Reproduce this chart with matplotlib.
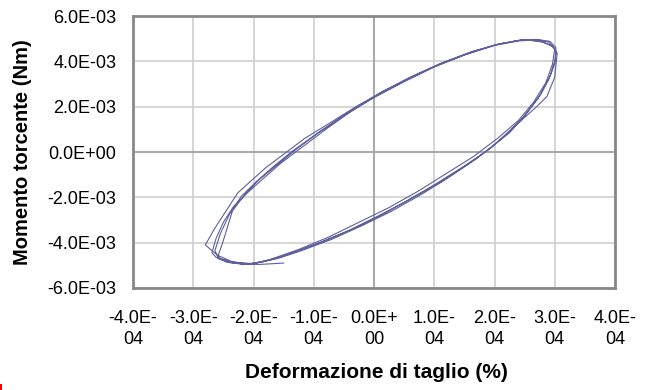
import matplotlib
matplotlib.use("Agg")
import matplotlib.pyplot as plt
from matplotlib.patches import Rectangle

plt.rcParams['font.family'] = ['Liberation Sans', 'DejaVu Sans']

# Torsion test loops: shear strain in units of 1e-4 (%), torque in units of 1e-3 Nm
strain_1 = [-1.5, -1.9, -2.2, -2.45, -2.62, -2.69, -2.62, -2.5, -2.33, -2.1, -1.85, -1.55, -1.2, -0.8,
            -0.35, 0.1, 0.6, 1.1, 1.6, 2.05, 2.45, 2.75, 2.95, 3.02, 3.0, 2.9, 2.72, 2.45, 2.1, 1.7,
            1.25, 0.8, 0.3, -0.2, -0.7, -1.2, -1.6]
torque_1 = [-4.9, -4.96, -4.95, -4.85, -4.65, -4.45, -3.8, -3.1, -2.4, -1.8, -1.2, -0.5, 0.2, 1.0,
            1.85, 2.6, 3.3, 3.9, 4.4, 4.75, 4.95, 4.9, 4.7, 4.45, 3.9, 3.2, 2.35, 1.45, 0.55, -0.3,
            -1.1, -1.85, -2.6, -3.25, -3.85, -4.35, -4.7]

strain_2 = [-2.0, -2.35, -2.6, -2.8, -2.65, -2.5, -2.26, -2.05, -1.8, -1.5, -1.15, -0.75, -0.3, 0.15,
            0.65, 1.15, 1.65, 2.1, 2.5, 2.8, 2.97, 3.04, 3.0, 2.87, 2.7, 2.3, 1.95, 1.55, 1.1, 0.65,
            0.15, -0.35, -0.85, -1.35, -1.75]
torque_2 = [-4.93, -4.85, -4.55, -4.1, -3.4, -2.78, -1.8, -1.3, -0.7, -0.1, 0.6, 1.25, 2.0, 2.68,
            3.35, 3.95, 4.45, 4.78, 4.96, 4.85, 4.65, 4.35, 3.3, 2.45, 2.0, 1.05, 0.2, -0.55, -1.35, -2.0,
            -2.75, -3.4, -3.95, -4.45, -4.78]

strain_3 = [-2.1, -2.4, -2.58, -2.64, -2.55, -2.4, -2.2, -1.95, -1.65, -1.35, -0.95, -0.5, 0.0, 0.5,
            1.0, 1.5, 2.0, 2.4, 2.7, 2.9, 3.0, 2.96, 2.85, 2.65, 2.4, 2.05, 1.65, 1.2, 0.75, 0.25,
            -0.25, -0.75, -1.25, -1.7]
torque_3 = [-4.95, -4.88, -4.7, -4.35, -3.6, -2.75, -1.95, -1.3, -0.6, 0.05, 0.8, 1.6, 2.4, 3.1,
            3.75, 4.28, 4.7, 4.9, 4.95, 4.85, 4.55, 3.85, 3.05, 2.2, 1.4, 0.6, -0.2, -0.95, -1.7, -2.45,
            -3.1, -3.75, -4.3, -4.72]

strain_4 = [-2.05, -2.35, -2.55, -2.59, -2.5, -2.35, -2.15, -1.9, -1.6, -1.3, -0.9, -0.45, 0.05, 0.55,
            1.05, 1.55, 2.0, 2.4, 2.7, 2.92, 3.02, 3.01, 2.93, 2.78, 2.55, 2.25, 1.85, 1.45, 1.0, 0.55,
            0.05, -0.45, -0.95, -1.45, -1.85, -2.2]
torque_4 = [-4.96, -4.85, -4.7, -4.6, -3.9, -2.6, -1.9, -1.2, -0.55, 0.1, 0.9, 1.7, 2.5, 3.2,
            3.82, 4.33, 4.72, 4.92, 4.97, 4.88, 4.6, 4.1, 3.4, 2.6, 1.75, 0.85, 0.0, -0.7, -1.45, -2.15,
            -2.85, -3.5, -4.05, -4.55, -4.85, -4.97]

x_ticks = [-4.0e-4, -3.0e-4, -2.0e-4, -1.0e-4, 0.0, 1.0e-4, 2.0e-4, 3.0e-4, 4.0e-4]
x_tick_labels = ['-4.0E-\n04', '-3.0E-\n04', '-2.0E-\n04', '-1.0E-\n04', '0.0E+\n00',
                 '1.0E-\n04', '2.0E-\n04', '3.0E-\n04', '4.0E-\n04']
y_ticks = [-6.0e-3, -4.0e-3, -2.0e-3, 0.0, 2.0e-3, 4.0e-3, 6.0e-3]
y_tick_labels = ['-6.0E-03', '-4.0E-03', '-2.0E-03', '0.0E+00', '2.0E-03', '4.0E-03', '6.0E-03']

strain = [v * 1e-4 for v in strain_1 + strain_2 + strain_3 + strain_4]
torque = [v * 1e-3 for v in torque_1 + torque_2 + torque_3 + torque_4]

fig = plt.figure(figsize=(6.52, 3.9), dpi=100)
ax = fig.add_axes([133 / 652, 1 - 288 / 390, 482 / 652, 272 / 390])

ax.set_xlim(-4.0e-4, 4.0e-4)
ax.set_ylim(-6.0e-3, 6.0e-3)
ax.set_xticks(x_ticks)
ax.set_xticklabels(x_tick_labels, linespacing=1.3)
ax.set_yticks(y_ticks)
ax.set_yticklabels(y_tick_labels)
ax.tick_params(axis='both', length=0, labelsize=13, colors='black')
ax.tick_params(axis='x', pad=16)
ax.tick_params(axis='y', pad=12)

ax.grid(True, color='#cccccc', linewidth=1.1)
ax.axhline(0, color='#a0a0a0', linewidth=1.2, zorder=1)
ax.axvline(0, color='#a0a0a0', linewidth=1.2, zorder=1)
ax.set_axisbelow(True)
for spine in ax.spines.values():
    spine.set_color('#888888')
    spine.set_linewidth(2)

ax.plot(strain, torque, color='#5f619e', linewidth=0.8, zorder=3)

fig.text(23 / 652, 1 - 152 / 390, 'Momento torcente (Nm)', rotation=90, ha='center', va='center',
         fontsize=14.5, fontweight='bold')
fig.text(376 / 652, 1 - 373 / 390, 'Deformazione di taglio (%)', ha='center', va='center',
         fontsize=15, fontweight='bold')

# small red mark in the lower-left corner
fig.patches.append(Rectangle((0, 0), 2 / 652, 6 / 390, transform=fig.transFigure,
                             color='red', linewidth=0))

fig.savefig('out.png', dpi=100)
